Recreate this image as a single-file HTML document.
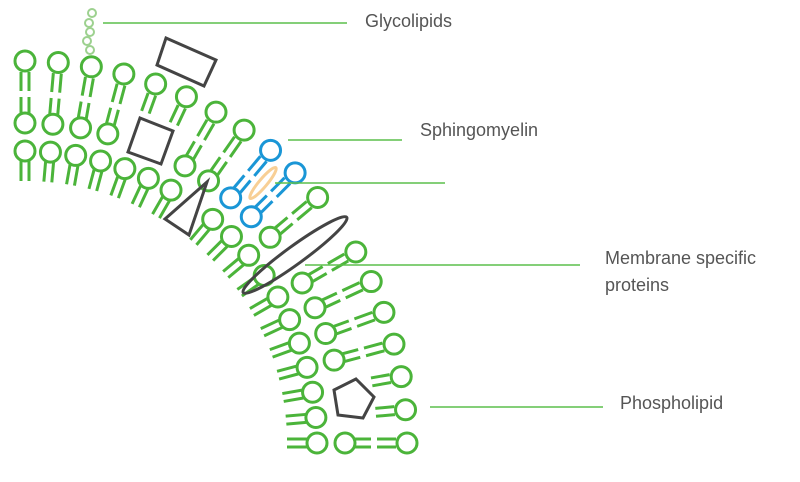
<!DOCTYPE html>
<html><head><meta charset="utf-8"><style>
html,body{margin:0;padding:0;background:#fff;width:800px;height:482px;overflow:hidden}
svg{display:block}
text{font-family:"Liberation Sans",sans-serif;font-size:18px;fill:#555}
</style></head><body>
<svg id="s" width="800" height="482" viewBox="0 0 800 482" xmlns="http://www.w3.org/2000/svg">
<g id="lip"></g>
<g fill="none" stroke="#444" stroke-width="3" stroke-linejoin="miter">
<polygon points="166,38 216,60 204,86 157,65"/>
<polygon points="140,118 173,131 161,164 128,152"/>
<polygon points="207,182 165,219 189,235"/>
<ellipse cx="295" cy="255" rx="64" ry="9" transform="rotate(-36 295 255)"/>
<polygon points="356,379 374,397 363,418 338,415 334,390"/>
</g>
<ellipse cx="263" cy="183" rx="20" ry="4" transform="rotate(-50 263 183)" fill="none" stroke="#f8cf95" stroke-width="3"/>
<g fill="#fff" stroke="#9dd18f" stroke-width="2">
<circle cx="92" cy="13" r="4"/><circle cx="89" cy="23" r="4"/><circle cx="90" cy="32" r="4"/><circle cx="87" cy="41" r="4"/><circle cx="90" cy="50" r="4"/>
</g>
<g stroke="#5cbf4b" stroke-width="1.5">
<line x1="103" y1="23" x2="347" y2="23"/>
<line x1="288" y1="140" x2="402" y2="140"/>
<line x1="275" y1="183" x2="445" y2="183"/>
<line x1="305" y1="265" x2="580" y2="265"/>
<line x1="430" y1="407" x2="603" y2="407"/>
</g>
<text x="365" y="27">Glycolipids</text>
<text x="420" y="136">Sphingomyelin</text>
<text x="605" y="264">Membrane specific</text>
<text x="605" y="291">proteins</text>
<text x="620" y="409">Phospholipid</text>
</svg>
<script>
(function(){
var g=document.getElementById('lip'),NS='http://www.w3.org/2000/svg';
var cx=25,cy=443,G='#4bb43a',B='#1a96d6';
function P(r,a,o){var t=a*Math.PI/180;return [cx+r*Math.sin(t)+o*Math.cos(t),cy-r*Math.cos(t)+o*Math.sin(t)];}
function ln(r1,r2,a,c){[-4,4].forEach(function(o){var p=P(r1,a,o),q=P(r2,a,o);var l=document.createElementNS(NS,'line');l.setAttribute('x1',p[0]);l.setAttribute('y1',p[1]);l.setAttribute('x2',q[0]);l.setAttribute('y2',q[1]);l.setAttribute('stroke',c);l.setAttribute('stroke-width','3');g.appendChild(l);});}
var heads=[];
for(var a=0;a<=90;a+=5){
 var c=(a==40||a==45)?B:G;
 var out=a!=55, mid=!(a==20||a==25||a==55||a==80||a==85), inn=a!=35;
 if(out){ln(371,352,a,c);heads.push([382,a,c]);}
 if(mid){ln(346,330,a,c);heads.push([320,a,c]);}
 if(inn){ln(282,262,a,G);heads.push([292,a,G]);}
}
heads.forEach(function(h){var p=P(h[0],h[1],0);var e=document.createElementNS(NS,'circle');e.setAttribute('cx',p[0]);e.setAttribute('cy',p[1]);e.setAttribute('r','10');e.setAttribute('fill','#fff');e.setAttribute('stroke',h[2]);e.setAttribute('stroke-width','3');g.appendChild(e);});
})();
</script>
</body></html>
